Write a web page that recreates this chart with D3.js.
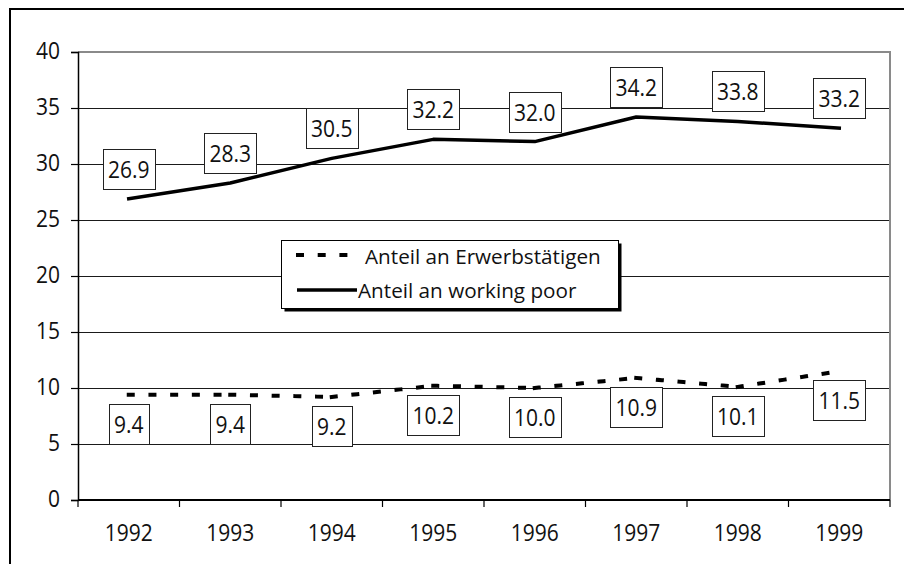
<!DOCTYPE html>
<html>
<head>
<meta charset="utf-8">
<script src="https://cdn.jsdelivr.net/npm/d3@7"></script>
<style>
  html, body { margin: 0; padding: 0; background: #fff; }
  svg { display: block; font-family: "Open Sans", "Noto Sans", sans-serif; }
</style>
</head>
<body>
<svg id="chart" width="904" height="564"></svg>
<script>
// Years on the category axis
const years = ["1992", "1993", "1994", "1995", "1996", "1997", "1998", "1999"];
// Share of all employed persons (%)
const shareEmployed = [9.4, 9.4, 9.2, 10.2, 10.0, 10.9, 10.1, 11.5];
// Share among the working poor (%)
const shareWorkingPoor = [26.9, 28.3, 30.5, 32.2, 32.0, 34.2, 33.8, 33.2];
// Value axis ticks
const yTicks = [0, 5, 10, 15, 20, 25, 30, 35, 40];
// Legend entries
const legendLabels = ["Anteil an Erwerbstätigen", "Anteil an working poor"];

const svg = d3.select("#chart");
const plot = { left: 78, right: 890, top: 52, bottom: 500 };
const FONT = 21, STRETCH = 1.13;   // labels use a slightly tall letterform

const x = d3.scaleBand().domain(years).range([plot.left, plot.right]).padding(0);
const y = d3.scaleLinear().domain([0, 40]).range([plot.bottom, plot.top]);
const cx = d => x(d) + x.bandwidth() / 2;

// Place a text at (px, py) as baseline anchor, stretched vertically
function tallText(sel, px, py) {
  sel.attr("x", 0).attr("y", 0)
    .attr("transform", `translate(${px},${py}) scale(1,${STRETCH})`);
}

// Outer frame of the chart (runs off the right and bottom edges)
svg.append("rect")
  .attr("x", 10).attr("y", 9).attr("width", 920).attr("height", 580)
  .attr("fill", "none").attr("stroke", "#000").attr("stroke-width", 2);

// Horizontal gridlines
svg.append("g")
  .selectAll("line")
  .data(yTicks.filter(t => t > 0 && t < 40))
  .join("line")
  .attr("x1", plot.left).attr("x2", plot.right)
  .attr("y1", d => Math.round(y(d)) + 0.5).attr("y2", d => Math.round(y(d)) + 0.5)
  .attr("stroke", "#1a1a1a").attr("stroke-width", 1);

// Plot area border on top and right
svg.append("path")
  .attr("d", `M${plot.left},${plot.top} H${plot.right} V${plot.bottom}`)
  .attr("fill", "none").attr("stroke", "#8a8a8a").attr("stroke-width", 2);

// Y axis
const yAxis = d3.axisLeft(y).tickValues(yTicks).tickSize(7).tickPadding(10).tickFormat(d3.format("d"));
const gy = svg.append("g").attr("transform", `translate(${plot.left},0)`).call(yAxis);
gy.select(".domain").attr("stroke", "#000").attr("stroke-width", 1.5);
gy.selectAll(".tick line").attr("stroke", "#000").attr("stroke-width", 1.2);
gy.selectAll(".tick text")
  .attr("font-size", FONT).attr("font-family", "Open Sans").attr("fill", "#111")
  .attr("dy", null)
  .each(function() { tallText(d3.select(this), -18, 6.8); });

// X axis: ticks sit on the category boundaries
const gx = svg.append("g").attr("transform", `translate(0,${plot.bottom})`);
gx.append("line")
  .attr("x1", plot.left).attr("x2", plot.right).attr("y1", 0).attr("y2", 0)
  .attr("stroke", "#000").attr("stroke-width", 2);
const boundaries = years.map(d => x(d)).concat([plot.right]);
gx.selectAll("line.tick")
  .data(boundaries)
  .join("line").attr("class", "tick")
  .attr("x1", d => d).attr("x2", d => d).attr("y1", 0).attr("y2", 7)
  .attr("stroke", "#000").attr("stroke-width", 1.2);
gx.selectAll("text")
  .data(years)
  .join("text")
  .attr("text-anchor", "middle")
  .attr("font-size", FONT).attr("fill", "#111")
  .text(d => d)
  .each(function(d) { tallText(d3.select(this), cx(d), 40.7); });

// Solid line: share among working poor
const lineGen = d3.line().x(d => cx(d.year)).y(d => y(d.value));
const wpData = years.map((yr, i) => ({ year: yr, value: shareWorkingPoor[i] }));
svg.append("path")
  .datum(wpData)
  .attr("d", lineGen)
  .attr("fill", "none").attr("stroke", "#000").attr("stroke-width", 3.5)
  .attr("stroke-linejoin", "round").attr("stroke-linecap", "square");

// Dashed line: each segment restarts its dash pattern at the vertex
const empData = years.map((yr, i) => ({ year: yr, value: shareEmployed[i] }));
svg.append("g")
  .selectAll("path")
  .data(d3.pairs(empData))
  .join("path")
  .attr("d", d => lineGen(d))
  .attr("fill", "none").attr("stroke", "#000").attr("stroke-width", 4)
  .attr("stroke-dasharray", "4,17.7").attr("stroke-linecap", "square");

// Boxed value labels
function addLabels(data, above) {
  const g = svg.append("g");
  const items = g.selectAll("g").data(data).join("g");
  items.each(function(d) {
    const sel = d3.select(this);
    const t = sel.append("text")
      .attr("text-anchor", "middle")
      .attr("font-size", FONT).attr("fill", "#111")
      .text(d3.format(".1f")(d.value));
    const w = t.node().getComputedTextLength() + 10;
    const h = 40;
    const px = cx(d.year), py = y(d.value);
    const top = above ? py - 10 - h : py + 9;
    sel.insert("rect", "text")
      .attr("x", Math.round(px - w / 2) + 0.5).attr("y", Math.round(top) + 0.5)
      .attr("width", Math.round(w)).attr("height", h)
      .attr("fill", "#fff").attr("stroke", "#222").attr("stroke-width", 1);
    tallText(t, px, Math.round(top) + 29);
  });
}
addLabels(wpData, true);
addLabels(empData, false);

// Legend with drop shadow
const lg = svg.append("g");
const lx = 281, ly = 240, lw = 337, lh = 68;
lg.append("rect")
  .attr("x", lx + 3.5).attr("y", ly + 3.5).attr("width", lw).attr("height", lh)
  .attr("fill", "#000");
lg.append("rect")
  .attr("x", lx + 0.5).attr("y", ly + 0.5).attr("width", lw).attr("height", lh)
  .attr("fill", "#fff").attr("stroke", "#000").attr("stroke-width", 1);
lg.append("line")
  .attr("x1", 298).attr("x2", 356).attr("y1", 255).attr("y2", 255)
  .attr("stroke", "#000").attr("stroke-width", 4)
  .attr("stroke-dasharray", "4,17.7").attr("stroke-linecap", "square");
lg.append("line")
  .attr("x1", 297).attr("x2", 357).attr("y1", 290).attr("y2", 290)
  .attr("stroke", "#000").attr("stroke-width", 3.5);
lg.append("text").attr("x", 365).attr("y", 264)
  .attr("font-size", 20.7).attr("fill", "#111").text(legendLabels[0]);
lg.append("text").attr("x", 358).attr("y", 298)
  .attr("font-size", 20.7).attr("fill", "#111").text(legendLabels[1]);
</script>
</body>
</html>
